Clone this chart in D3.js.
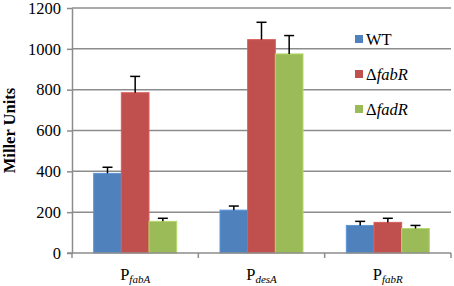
<!DOCTYPE html>
<html>
<head>
<meta charset="utf-8">
<script src="https://cdn.jsdelivr.net/npm/d3@7"></script>
<style>
  body { margin: 0; background: #fff; }
  svg text { font-family: "Liberation Serif", "Times New Roman", serif; }
</style>
</head>
<body>
<div id="chart"></div>
<script>
// promoters (label + italic subscript)
const promoters = ["fabA", "desA", "fabR"];
const strains = ["WT", "\u0394fabR", "\u0394fadR"];
const colors = ["#4F81BD", "#C0504D", "#9BBB59"];
// values per strain, in promoter order
const wtValues = [390, 210, 135];
const fabRValues = [785, 1045, 150];
const fadRValues = [155, 975, 120];
// upper end of the error bars
const wtErr = [420, 230, 155];
const fabRErr = [865, 1130, 170];
const fadRErr = [170, 1065, 135];
const yTicks = [0, 200, 400, 600, 800, 1000, 1200];

const values = [wtValues, fabRValues, fadRValues];
const errs = [wtErr, fabRErr, fadRErr];

const width = 454, height = 286;
const margin = { top: 8, right: 3, bottom: 33, left: 72 };

const svg = d3.select('#chart')
    .append('svg')
    .attr('width', width)
    .attr('height', height);

const g = svg.append('g')
    .attr('transform', 'translate(' + margin.left + ',' + margin.top + ')');

const innerW = width - margin.left - margin.right;
const innerH = height - margin.top - margin.bottom;

var x = d3.scaleBand()
    .domain(promoters)
    .range([0, innerW]);

var xInner = d3.scaleBand()
    .domain(d3.range(strains.length))
    .range([0, 83])
    .paddingInner(0);

var y = d3.scaleLinear()
    .domain([0, 1200])
    .range([innerH, 0]);

// gridlines
g.selectAll('.grid')
    .data(yTicks.slice(1))
    .enter()
    .append('line')
    .attr('x1', 0)
    .attr('x2', innerW)
    .attr('y1', d => y(d))
    .attr('y2', d => y(d))
    .attr('stroke', '#8c8c8c')
    .attr('stroke-width', 1.5);

// y axis
const yAxis = g.append('g')
    .attr('font-family', '"Liberation Serif", serif')
    .call(d3.axisLeft(y).tickValues(yTicks).tickFormat(d3.format('d'))
        .tickSize(5).tickSizeOuter(0).tickPadding(6));
yAxis.select('.domain').attr('stroke', '#8c8c8c').attr('stroke-width', 1.5);
yAxis.selectAll('.tick line').attr('stroke', '#8c8c8c').attr('stroke-width', 1.5);
yAxis.selectAll('.tick text')
    .attr('font-size', 16.5)
    .attr('fill', '#000');

// bars
strains.forEach(function (s, i) {
    const off = (x.bandwidth() - 83) / 2;
    g.selectAll('.bar' + i)
        .data(promoters)
        .enter()
        .append('rect')
        .attr('x', d => x(d) + off + xInner(i))
        .attr('y', (d, j) => y(values[i][j]))
        .attr('width', xInner.bandwidth())
        .attr('height', (d, j) => innerH - y(values[i][j]))
        .attr('fill', colors[i])
        .attr('stroke', d3.color(colors[i]).brighter(0.4))
        .attr('stroke-width', 1);

    // error bars
    promoters.forEach(function (d, j) {
        const cx = x(d) + off + xInner(i) + xInner.bandwidth() / 2;
        g.append('line')
            .attr('x1', cx).attr('x2', cx)
            .attr('y1', y(values[i][j])).attr('y2', y(errs[i][j]))
            .attr('stroke', '#000').attr('stroke-width', 1.5);
        g.append('line')
            .attr('x1', cx - 5).attr('x2', cx + 5)
            .attr('y1', y(errs[i][j])).attr('y2', y(errs[i][j]))
            .attr('stroke', '#000').attr('stroke-width', 1.5);
    });
});

// x axis
const xAxis = g.append('g')
    .attr('transform', 'translate(0,' + innerH + ')');
xAxis.append('line')
    .attr('x1', -5).attr('x2', innerW)
    .attr('stroke', '#8c8c8c').attr('stroke-width', 1.5);
xAxis.selectAll('.xtick')
    .data(d3.range(promoters.length + 1))
    .enter()
    .append('line')
    .attr('x1', d => d * x.step()).attr('x2', d => d * x.step())
    .attr('y1', 0).attr('y2', 5)
    .attr('stroke', '#8c8c8c').attr('stroke-width', 1.5);

const xLabels = xAxis.selectAll('.xlabel')
    .data(promoters)
    .enter()
    .append('text')
    .attr('x', d => x(d) + x.bandwidth() / 2)
    .attr('y', 26.5)
    .attr('text-anchor', 'middle')
    .attr('font-size', 16.5);
xLabels.append('tspan').text('P');
xLabels.append('tspan')
    .attr('font-size', 11)
    .attr('font-style', 'italic')
    .attr('dy', 3.5)
    .text(d => d);

// y axis title
svg.append('text')
    .attr('transform', 'translate(15,' + (margin.top + innerH / 2) + ') rotate(-90)')
    .attr('text-anchor', 'middle')
    .attr('font-size', 16.5)
    .attr('font-weight', 'bold')
    .text('Miller Units');

// legend
const legend = svg.append('g');
strains.forEach(function (s, i) {
    const ly = 39 + i * 35;
    legend.append('rect')
        .attr('x', 355).attr('y', ly - 4)
        .attr('width', 8).attr('height', 8)
        .attr('fill', colors[i]);
    const t = legend.append('text')
        .attr('x', 366).attr('y', ly + 6)
        .attr('font-size', 16.5);
    if (i === 0) {
        t.text(s);
    } else {
        t.append('tspan').text('\u0394');
        t.append('tspan').attr('font-style', 'italic').text(s.slice(1));
    }
});
</script>
</body>
</html>
